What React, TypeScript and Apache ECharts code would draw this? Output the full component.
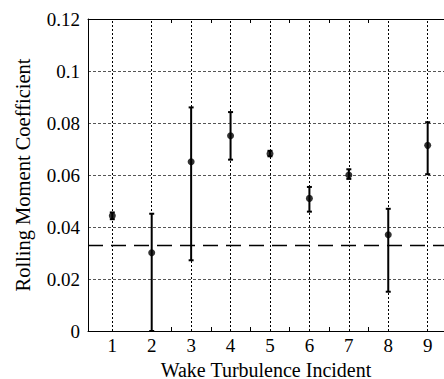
import React, { useEffect, useRef } from "react";
import * as echarts from "echarts";

const incidents = [1, 2, 3, 4, 5, 6, 7, 8, 9];
const means = [0.0443, 0.0301, 0.0651, 0.0751, 0.0682, 0.051, 0.06, 0.037, 0.0714];
const lows = [0.0430, 0.0, 0.0272, 0.0659, 0.0672, 0.0459, 0.0585, 0.0151, 0.0603];
const highs = [0.0456, 0.0451, 0.086, 0.0842, 0.0693, 0.0554, 0.0622, 0.047, 0.0803];
const referenceLevel = 0.0328;
const yTicks = [0, 0.02, 0.04, 0.06, 0.08, 0.1, 0.12];
const minorXTicks = [2.5, 3.5, 4.5, 5.5, 6.5, 7.5];

const FONT = "'Liberation Serif', 'Times New Roman', serif";

export default function App() {
  const ref = useRef<HTMLDivElement>(null);
  useEffect(() => {
    const chart = echarts.init(ref.current!, null, { renderer: "svg" });
    const errData = incidents.map((x, i) => [x, lows[i], highs[i]]);
    const option: any = {
      animation: false,
      textStyle: { fontFamily: FONT },
      grid: { left: 88, right: 0, top: 19, bottom: 48, containLabel: false, outerBoundsMode: "none" },
      xAxis: [
        {
          type: "value",
          min: 0.384,
          max: 9.414,
          axisLine: { show: true, lineStyle: { color: "#000", width: 1 } },
          axisTick: { show: true, inside: true, length: 4, customValues: minorXTicks, lineStyle: { color: "#000" } },
          axisLabel: {
            customValues: incidents,
            color: "#000",
            fontFamily: FONT,
            fontSize: 19,
            margin: 5,
            formatter: (v: number) => String(v),
          },
          splitLine: { show: false },
          name: "Wake Turbulence Incident",
          nameLocation: "middle",
          nameGap: 20,
          nameTextStyle: { color: "#000", fontFamily: FONT, fontSize: 20, lineHeight: 20 },
        },
        {
          type: "value",
          position: "top",
          min: 0.384,
          max: 9.414,
          axisLine: { show: true, lineStyle: { color: "#000", width: 1 } },
          axisTick: { show: true, inside: true, length: 4, customValues: minorXTicks, lineStyle: { color: "#000" } },
          axisLabel: { show: false },
          splitLine: { show: false },
        },
      ],
      yAxis: {
        type: "value",
        min: 0,
        max: 0.12,
        interval: 0.02,
        axisLine: { show: true, lineStyle: { color: "#000", width: 1 } },
        axisTick: { show: false },
        axisLabel: {
          color: "#000",
          fontFamily: FONT,
          fontSize: 19,
          margin: 8,
          formatter: (v: number) => {
            const t = yTicks.find((y) => Math.abs(y - v) < 1e-9);
            return t === undefined ? "" : String(Number(t.toFixed(2)));
          },
        },
        splitLine: { show: true, lineStyle: { color: "#555", type: [3, 2], width: 1 } },
        name: "Rolling Moment Coefficient",
        nameLocation: "middle",
        nameGap: 55,
        nameTextStyle: { color: "#000", fontFamily: FONT, fontSize: 20.5 },
      },
      series: [
        {
          type: "line",
          data: [],
          markLine: {
            silent: true,
            symbol: "none",
            precision: 6,
            label: { show: false },
            lineStyle: { color: "#000", type: [2, 2], width: 1 },
            data: incidents.map((x) => ({ xAxis: x })),
          },
        },
        {
          type: "line",
          data: [],
          markLine: {
            silent: true,
            symbol: "none",
            precision: 6,
            label: { show: false },
            lineStyle: { color: "#000", type: [15, 8], width: 1.3 },
            data: [{ yAxis: referenceLevel }],
          },
        },
        {
          type: "custom",
          data: errData,
          renderItem: (params: any, api: any) => {
            const x = api.value(0);
            const lo = api.coord([x, api.value(1)]);
            const hi = api.coord([x, api.value(2)]);
            const cw = 2.5;
            const style = { stroke: "#000", lineWidth: 2 };
            return {
              type: "group",
              children: [
                { type: "line", shape: { x1: lo[0], y1: lo[1], x2: hi[0], y2: hi[1] }, style },
                { type: "line", shape: { x1: lo[0] - cw, y1: lo[1], x2: lo[0] + cw, y2: lo[1] }, style },
                { type: "line", shape: { x1: hi[0] - cw, y1: hi[1], x2: hi[0] + cw, y2: hi[1] }, style },
              ],
            };
          },
          z: 3,
        },
        {
          type: "scatter",
          data: incidents.map((x, i) => [x, means[i]]),
          symbol: "circle",
          symbolSize: 7,
          itemStyle: { color: "#000" },
          z: 4,
        },
      ],
    };
    chart.setOption(option);
    return () => chart.dispose();
  }, []);
  return <div ref={ref} style={{ width: 444, height: 379, position: "absolute", left: 0, top: 0 }} />;
}
